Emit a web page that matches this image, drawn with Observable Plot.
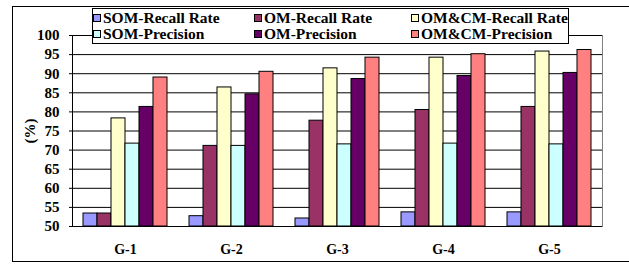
<!DOCTYPE html>
<html>
<head>
<meta charset="utf-8">
<script src="https://cdn.jsdelivr.net/npm/d3@7"></script>
<script src="https://cdn.jsdelivr.net/npm/@observablehq/plot@0.6"></script>
<style>
  html, body { margin: 0; padding: 0; background: #fff; overflow: hidden; }
  #wrap { position: relative; width: 629px; height: 265px; overflow: hidden; font-family: "Liberation Serif", "DejaVu Serif", serif; font-weight: bold; }
  #outer { position: absolute; left: 12px; top: 6px; width: 660px; height: 256px; border: 1px solid #000; box-sizing: border-box; }
  #chart { position: absolute; left: 0; top: 0; }
  #chart svg, #chart svg text { font-family: "Liberation Serif", "DejaVu Serif", serif !important; font-weight: bold; }
  #legend { position: absolute; left: 92px; top: 8px; width: 477px; height: 36px; border: 1px solid #000; background: #fff; box-sizing: border-box; }
  .item { position: absolute; font-size: 15.5px; line-height: 16px; white-space: nowrap; }
  .sw { display: inline-block; width: 6px; height: 6px; border: 1px solid #000; margin-right: 2px; vertical-align: 1px; }
</style>
</head>
<body>
<div id="wrap">
  <div id="outer"></div>
  <div id="chart"></div>
  <div id="legend"></div>
</div>
<script>
const groups = ["G-1", "G-2", "G-3", "G-4", "G-5"];
const series = ["SOM-Recall Rate", "OM-Recall Rate", "OM&CM-Recall Rate", "SOM-Precision", "OM-Precision", "OM&CM-Precision"];
const colors = ["#9999FF", "#993366", "#FFFFCC", "#CCFFFF", "#660066", "#FF8080"];
const somRecall = [53.4, 52.7, 52.1, 53.7, 53.7];
const omRecall = [53.4, 71.1, 77.7, 80.5, 81.3];
const omcmRecall = [78.3, 86.4, 91.4, 94.2, 95.8];
const somPrecision = [71.7, 71.1, 71.5, 71.7, 71.5];
const omPrecision = [81.3, 84.6, 88.6, 89.4, 90.2];
const omcmPrecision = [89.0, 90.5, 94.2, 95.1, 96.2];
const yTicks = [50, 55, 60, 65, 70, 75, 80, 85, 90, 95, 100];

const values = [somRecall, omRecall, omcmRecall, somPrecision, omPrecision, omcmPrecision];
const rows = [];
groups.forEach((g, i) => series.forEach((s, j) => rows.push({group: g, series: s, value: values[j][i]})));

const chart = Plot.plot({
  width: 629,
  height: 265,
  marginLeft: 70,
  marginRight: 26,
  marginTop: 35,
  marginBottom: 39,
  style: {fontFamily: "'Liberation Serif', 'DejaVu Serif', serif", fontWeight: "bold", background: "transparent", color: "#000"},
  fx: {domain: groups, padding: 0, label: null},
  x: {domain: series, paddingInner: 0, paddingOuter: 0.72, axis: null},
  y: {domain: [50, 100], label: "(%)"},
  color: {domain: series, range: colors},
  marks: [
    Plot.gridY(yTicks, {stroke: "#000", strokeOpacity: 1}),
    Plot.frame({anchor: "right", facetAnchor: "right", stroke: "#808080"}),
    Plot.barY(rows, {fx: "group", x: "series", y1: 50, y2: "value", fill: "series", stroke: "#000", strokeWidth: 1}),
    Plot.ruleY([50], {stroke: "#000"}),
    Plot.frame({anchor: "left", facetAnchor: "left", stroke: "#000"}),
    Plot.axisY(yTicks, {tickSize: 3, tickPadding: 10, fontSize: 15, label: "(%)", labelAnchor: "center", labelOffset: 48, labelArrow: "none"}),
    Plot.axisFx({anchor: "bottom", tickSize: 0, tickPadding: 18, fontSize: 14, label: null})
  ]
});
document.getElementById("chart").appendChild(chart);

const legend = document.getElementById("legend");
const colX = [0, 161, 318];
const rowY = [1, 17];
const legendOrder = [[0, 1, 2], [3, 4, 5]];
legendOrder.forEach((r, ri) => r.forEach((si, ci) => {
  const d = document.createElement("div");
  d.className = "item";
  d.style.left = colX[ci] + "px";
  d.style.top = rowY[ri] + "px";
  d.innerHTML = `<span class="sw" style="background:${colors[si]}"></span>`;
  d.appendChild(document.createTextNode(series[si]));
  legend.appendChild(d);
}));
</script>
</body>
</html>
